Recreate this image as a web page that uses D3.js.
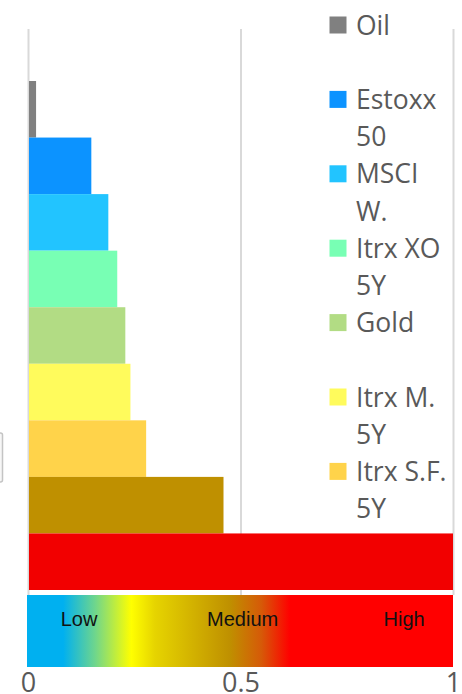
<!DOCTYPE html>
<html>
<head>
<meta charset="utf-8">
<script src="https://cdn.jsdelivr.net/npm/d3@7"></script>
<style>
  body { margin: 0; background: #fff; }
  svg { display: block; }
</style>
</head>
<body>
<div id="chart"></div>
<script>
// datos
const categorias = ["Oil", "Estoxx 50", "MSCI W.", "Itrx XO 5Y", "Gold", "Itrx M. 5Y", "Itrx S.F. 5Y", "Series 8", "Series 9"]
const valores = [0.019, 0.149, 0.189, 0.21, 0.229, 0.241, 0.278, 0.46, 1.0]
const colores = ["#808080", "#0c93ff", "#22c4ff", "#78ffb4", "#b2dc84", "#fffb5c", "#ffd34a", "#bf9000", "#f20000"]
const ticksX = [0, 0.5, 1]
const nivelesTexto = ["Low", "Medium", "High"]
const nivelesPos = [0.12, 0.505, 0.885]
const gradStops = [0, 0.085, 0.16, 0.245, 0.3, 0.476, 0.55, 0.617, 1]
const gradColores = ["#00b0f0", "#00b0f0", "#6fd68c", "#ffff00", "#e6d400", "#bf9000", "#d65a08", "#ff0000", "#ff0000"]

const ancho = 462
const alto = 694
const plot = { izq: 28, der: 453, arriba: 29, barrasArriba: 81, abajo: 590, gridAbajo: 595 }

const svg = d3.select("#chart").append("svg").attr("width", ancho).attr("height", alto)

const x = d3.scaleLinear().domain([0, 1]).range([plot.izq, plot.der])
const y = d3.scaleBand().domain(categorias).range([plot.barrasArriba, plot.abajo]).padding(0)

// rejilla
const grid = svg.append("g").attr("transform", `translate(0, ${plot.gridAbajo})`)
  .call(d3.axisBottom(x).tickValues(ticksX).tickSize(-(plot.gridAbajo - plot.arriba)).tickFormat(""))
grid.select(".domain").remove()
grid.selectAll("line").attr("stroke", "#d9d9d9").attr("stroke-width", 2)

// cosa gris a la izquierda (recortada)
svg.append("rect").attr("x", -10).attr("y", 433).attr("width", 12.5).attr("height", 49)
  .attr("rx", 2).attr("fill", "#f7f7f7").attr("stroke", "#c4c4c4").attr("stroke-width", 1.5)

// barras
svg.append("g").selectAll("rect").data(categorias).enter().append("rect")
  .attr("x", x(0) + 1)
  .attr("y", d => y(d))
  .attr("width", (d, i) => x(valores[i]) - x(0) - 1)
  .attr("height", y.bandwidth())
  .attr("fill", (d, i) => colores[i])

// leyenda
const leyenda = svg.append("g").attr("font-family", "'Open Sans', sans-serif").attr("font-size", 26.5).attr("fill", "#595959")
const lineaAlto = 37.2
const leyTop = 34.5
const maxAnchoTexto = 100
categorias.forEach((c, i) => {
  const base = leyTop + i * 2 * lineaAlto
  if (base - 27 + 2 * lineaAlto > y(categorias[categorias.length - 1])) return
  const g = leyenda.append("g")
  g.append("rect").attr("x", 329.5).attr("y", base - 18).attr("width", 17).attr("height", 17).attr("fill", colores[i])
  const t = g.append("text").attr("x", 356).attr("y", base)
  // partir en lineas
  const palabras = c.split(" ")
  let linea = []
  let tspan = t.append("tspan").attr("x", 356).attr("y", base)
  let n = 0
  palabras.forEach(p => {
    linea.push(p)
    tspan.text(linea.join(" "))
    if (tspan.node().getComputedTextLength() > maxAnchoTexto && linea.length > 1) {
      linea.pop()
      tspan.text(linea.join(" "))
      linea = [p]
      n++
      tspan = t.append("tspan").attr("x", 356).attr("y", base + n * lineaAlto).text(p)
    }
  })
})

// barra de color
const defs = svg.append("defs")
const grad = defs.append("linearGradient").attr("id", "grad").attr("x1", "0%").attr("x2", "100%")
gradStops.forEach((s, i) => grad.append("stop").attr("offset", s).attr("stop-color", gradColores[i]))
svg.append("rect").attr("x", plot.izq - 1).attr("y", 595).attr("width", plot.der - plot.izq + 1).attr("height", 72)
  .attr("fill", "url(#grad)")
svg.append("g").selectAll("text").data(nivelesTexto).enter().append("text")
  .attr("x", (d, i) => x(nivelesPos[i]))
  .attr("y", 626)
  .attr("text-anchor", "middle")
  .attr("font-family", "'Liberation Sans', Arial, sans-serif")
  .attr("font-size", 20)
  .attr("fill", "#111")
  .text(d => d)

// eje x
const ejeX = svg.append("g").attr("transform", `translate(0, 667)`)
  .call(d3.axisBottom(x).tickValues(ticksX).tickSize(0).tickPadding(6).tickFormat(d => String(d)))
ejeX.select(".domain").remove()
ejeX.selectAll("text").attr("font-family", "'Open Sans', sans-serif").attr("font-size", 27).attr("fill", "#595959")
</script>
</body>
</html>
